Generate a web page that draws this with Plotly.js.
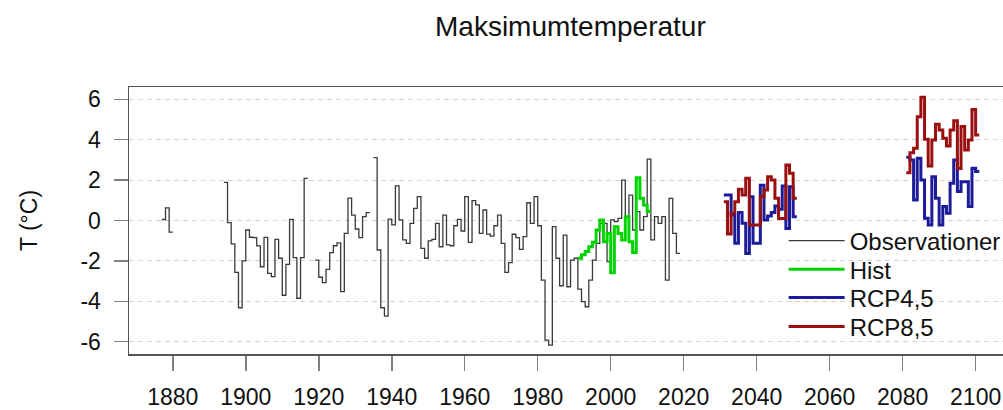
<!DOCTYPE html>
<html><head><meta charset="utf-8">
<script src="https://cdn.plot.ly/plotly-3.0.1.min.js"></script>
<style>html,body{margin:0;padding:0;overflow:hidden;background:#fff}</style>
</head><body>
<div id="chart" style="width:1003px;height:410px"></div>
<script>
// ---- data (one value per year; each value drawn as a step covering that year) ----
const obsSegStarts = [1877, 1894, 1919, 1935];
const obsSeg1 = [0.05, 0.63, -0.58];
const obsSeg2 = [1.89, -0.11, -1.16, -2.57, -4.32, -2.0, -0.47, -0.83, -0.85, -1.26,
                 -2.29, -0.84, -2.62, -2.78, -0.93, -1.87, -3.70, -2.17, 0.06, -1.84,
                 -3.85, -1.84, 2.09];
const obsSeg3 = [-1.96, -2.81, -3.08, -2.42, -1.59, -1.25, -1.11, -3.52, -0.64, 1.11,
                 0.27, -0.42, -0.85, 0.19, 0.39];
const obsSeg4 = [3.11, -1.46, -4.32, -4.73, 0.07, -0.22, 1.71, 0.03, -0.96, -1.13,   // 1935-1944
                 -0.14, 0.60, 1.18, -1.38, -1.87, -1.01, -0.93, -0.14, -1.30, 0.27,  // 1945-1954
                 -1.21, -1.25, -0.26, 0.06, -0.52, 1.18, -1.08, 0.98, 0.77, -0.64,   // 1955-1964
                 0.52, -0.67, -0.77, -0.26, 0.27, -1.13, -2.57, -2.09, -0.68, -0.85, // 1965-1974
                 -1.43, -0.80, 0.88, -0.14, 1.18, -0.26, -2.95, -5.92, -6.17, -0.30, // 1975-1984
                 -1.87, -3.23, -0.72, -3.28, -1.96, -1.87, -3.40, -4.02, -4.27, -2.95, // 1985-1994
                 -1.96, -1.13, -0.14, -0.14, -2.04, 0.03, -0.06, 0.11, 2.00, 0.19,   // 1995-2004
                 1.26, -0.47, 0.44, -0.47, 0.19, 3.04, -0.96, 0.19, -0.14, 0.19,     // 2005-2014
                 -2.95, 1.10, -0.64, -1.63];                                          // 2015-2018
const histStart = 1991;
const histVals = [-1.87, -1.70, -1.54, -1.30, -1.08, -0.47, 0.03, -1.05, -0.64, -2.59,
                  -0.31, -0.64, -0.96, 0.19, -1.05, -1.58, 2.12, 1.10, 0.77, 0.44];
const rcpStarts = [2031, 2081];
const rcp45Mid = [1.26, 1.26, 0.27, -1.13, 0.39, -0.14, -1.63, 1.18, -1.13, -1.13,
                  1.74, 0.03, 0.22, 0.39, 0.72, 0.56, 1.71, -0.39, 1.67, 0.19];
const rcp45End = [3.13, 3.00, 1.01, 3.08, 2.00, 0.11, -0.22, 2.17, 1.10, -0.22,
                  0.69, 0.36, 1.84, 3.00, 1.43, 1.92, 1.92, 0.69, 2.59, 2.42];
const rcp85Mid = [0.93, -0.67, 0.36, 0.93, 1.55, 1.26, 2.09, -0.22, -0.22, -0.22,
                  1.18, 1.51, 2.17, 2.00, 1.10, 0.10, 0.10, 2.75, 2.34, 1.10];
const rcp85End = [2.37, 3.36, 3.58, 5.14, 6.10, 4.02, 2.70, 3.99, 4.76, 4.48,
                  4.07, 3.69, 4.48, 4.94, 2.58, 4.65, 3.49, 3.99, 5.50, 4.23];
const xTickVals = [1880, 1900, 1920, 1940, 1960, 1980, 2000, 2020, 2040, 2060, 2080, 2100];
const yTickVals = [-6, -4, -2, 0, 2, 4, 6];
const yTickText = ['-6', '-4', '-2', '0', '2', '4', '6'];
const seriesNames = ['Observationer', 'Hist', 'RCP4,5', 'RCP8,5'];

// build step series: each value spans [year, year+1]; segments separated by null
function stepSeries(starts, segs) {
  const x = [], y = [];
  segs.forEach((vals, k) => {
    if (k > 0) { x.push(starts[k] - 0.5); y.push(null); }
    vals.forEach((v, i) => { x.push(starts[k] + i); y.push(v); });
    x.push(starts[k] + vals.length); y.push(vals[vals.length - 1]);
  });
  return {x, y};
}

const obs = stepSeries(obsSegStarts, [obsSeg1, obsSeg2, obsSeg3, obsSeg4]);
const hist = stepSeries([histStart], [histVals]);
const r45 = stepSeries(rcpStarts, [rcp45Mid, rcp45End]);
const r85 = stepSeries(rcpStarts, [rcp85Mid, rcp85End]);

const FONT = 'Liberation Sans, Arial, Helvetica, sans-serif';
const traces = [
  {x: obs.x, y: obs.y, name: seriesNames[0], mode: 'lines', connectgaps: false, legend: 'legend',
   line: {shape: 'hv', color: '#3a3a3a', width: 1.3}},
  {x: hist.x, y: hist.y, name: seriesNames[1], mode: 'lines', legend: 'legend2',
   line: {shape: 'hv', color: '#00d400', width: 3}},
  {x: r45.x, y: r45.y, name: seriesNames[2], mode: 'lines', connectgaps: false, legend: 'legend3',
   line: {shape: 'hv', color: '#1c1c9a', width: 3}},
  {x: r85.x, y: r85.y, name: seriesNames[3], mode: 'lines', connectgaps: false, legend: 'legend4',
   line: {shape: 'hv', color: '#9a1010', width: 3}}
];

function leg(y) {
  return {x: 0.749, y: y, xanchor: 'left', yanchor: 'top', bgcolor: 'rgba(0,0,0,0)',
          borderwidth: 0, font: {family: FONT, size: 24, color: '#111'}, itemwidth: 56};
}

const layout = {
  width: 1003, height: 410,
  margin: {l: 129, r: 0, t: 87, b: 56, autoexpand: false},
  paper_bgcolor: '#fff', plot_bgcolor: '#fff',
  font: {family: FONT, size: 23, color: '#111'},
  title: {text: 'Maksimumtemperatur', font: {family: FONT, size: 28, color: '#111'},
          xref: 'paper', x: 0.505, xanchor: 'center', yref: 'container', y: 0.935, yanchor: 'middle'},
  showlegend: true,
  legend: leg(0.5075), legend2: leg(0.4005), legend3: leg(0.294), legend4: leg(0.1855),
  xaxis: {range: [1868, 2107.5], tickmode: 'array', tickvals: xTickVals,
          ticks: 'outside', ticklen: 15, tickwidth: 1.5, tickcolor: '#808080',
          showline: true, linecolor: '#555', linewidth: 1.5, mirror: true,
          showgrid: false, zeroline: false, ticklabelstandoff: 7,
          tickfont: {family: FONT, size: 23, color: '#111'}},
  yaxis: {range: [-6.61, 6.61], tickmode: 'array', tickvals: yTickVals, ticktext: yTickText,
          ticks: 'outside', ticklen: 14, tickwidth: 1.5, tickcolor: '#808080',
          showline: true, linecolor: '#555', linewidth: 1.5, mirror: false,
          showgrid: true, gridcolor: '#d4d4d4', gridwidth: 1.2, griddash: '5px,4px',
          zeroline: false, ticklabelstandoff: 8,
          tickfont: {family: FONT, size: 23, color: '#111'},
          title: {text: 'T (°C)', font: {family: FONT, size: 23, color: '#111'}, standoff: 36}}
};

Plotly.newPlot('chart', traces, layout, {displayModeBar: false, staticPlot: true});
</script>
</body></html>
